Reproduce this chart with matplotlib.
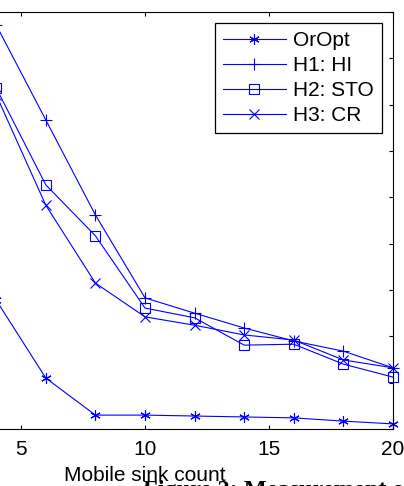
import numpy as np
import matplotlib
matplotlib.use("Agg")
import matplotlib.pyplot as plt

plt.rcParams['font.family'] = ['Liberation Sans', 'DejaVu Sans']

# --- data ---
sink_count = [4, 6, 8, 10, 12, 14, 16, 18, 20]
oropt = [2.78, 1.10, 0.30, 0.30, 0.28, 0.26, 0.24, 0.17, 0.11]
h1_hi = [8.72, 6.67, 4.62, 2.83, 2.50, 2.18, 1.90, 1.68, 1.32]
h2_sto = [7.36, 5.27, 4.17, 2.61, 2.40, 1.81, 1.83, 1.40, 1.12]
h3_cr = [7.21, 4.83, 3.15, 2.42, 2.24, 2.03, 1.92, 1.49, 1.32]
labels = ["OrOpt", "H1: HI", "H2: STO", "H3: CR"]
x_ticks = [5, 10, 15, 20]

W, H = 404, 486
fig = plt.figure(figsize=(W / 100, H / 100), dpi=100)

# axes extend past the left edge (reference is a crop)
left_px, right_px, top_px, bot_px = -103, 393, 12, 429
ax = fig.add_axes([left_px / W, 1 - bot_px / H,
                   (right_px - left_px) / W, (bot_px - top_px) / H])

blue = '#0000ff'
ast = (6, 2, 0)
styles = [(oropt, ast, 7.5), (h1_hi, '+', 9), (h2_sto, 's', 7.5), (h3_cr, 'x', 6.5)]
for (ys, mk, ms), lab in zip(styles, labels):
    ax.plot(sink_count, ys, color=blue, lw=0.8, marker=mk, ms=ms,
            mfc='none', mec=blue, mew=0.8, label=lab, clip_on=False)

ax.set_xlim(0, 20)
ax.set_ylim(0, 9)
ax.set_xticks(x_ticks)
ax.set_yticks(np.arange(0, 10, 1))
ax.tick_params(direction='in', length=3, width=0.8, top=True, right=True,
               labelsize=15, pad=8, labelleft=False)
for sp in ax.spines.values():
    sp.set_linewidth(0.8)
ax.set_xlabel("Mobile sink count", fontsize=15, labelpad=5)

leg = ax.legend(loc='upper right', bbox_to_anchor=(382 / W, 1 - 23 / H),
                bbox_transform=fig.transFigure, fontsize=15, frameon=True,
                fancybox=False, framealpha=1, edgecolor='black',
                handlelength=3.0, handletextpad=0.35, labelspacing=0.28,
                borderpad=0.4, borderaxespad=0)
leg.get_frame().set_linewidth(0.9)

fig.text(143 / W, 1 - 480 / H, "Figure 2: Measurement o", family='Liberation Serif',
         fontweight='bold', fontsize=17.5, va='top', ha='left')

fig.savefig("out.png", dpi=100)
